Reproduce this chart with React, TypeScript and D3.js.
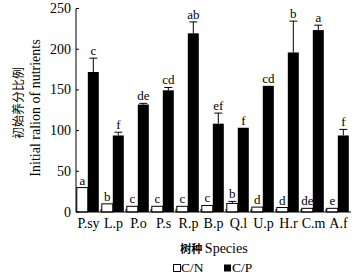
import React from "react";
import * as d3 from "d3";

const species = ["P.sy", "L.p", "P.o", "P.s", "R.p", "B.p", "Q.l", "U.p", "H.r", "C.m", "A.f"];
const cnValues = [30, 10, 7, 7, 7, 8, 10.5, 6, 5.5, 4.5, 4.5];
const cnErrors = [0, 0, 0, 0, 0, 0, 2.5, 0, 0, 0, 0];
const cnLetters = ["a", "b", "c", "c", "c", "c", "b", "d", "d", "de", "e"];
const cpValues = [172, 94, 132, 149.5, 219.5, 108.5, 103.5, 155, 196, 223.5, 94];
const cpErrors = [17, 4, 1.5, 3.5, 14, 13, 0, 0, 38.5, 6, 7.5];
const cpLetters = ["c", "f", "de", "cd", "ab", "ef", "f", "cd", "b", "a", "f"];
const yTicks = [0, 50, 100, 150, 200, 250];

const serifStyle = { fontFamily: "'Liberation Serif', 'Times New Roman', serif" };
const cjkStyle = { fontFamily: "'Noto Sans CJK SC', sans-serif" };

export default function App() {
  const W = 352, H = 277;
  const x0 = 76, x1 = 351;
  const y = d3.scaleLinear().domain([0, 250]).range([212, 8.5]);
  const x = d3.scaleBand<string>().domain(species).range([x0, x1]).padding(0);
  const bw = 11;
  const off = 0.8;

  return (
    <svg width={W} height={H} style={{ position: "absolute", left: 0, top: 0, background: "#fff" }}>
      {species.map((s, i) => {
        const gx = x(s)!;
        const wx = gx + off;
        const bx = gx + off + bw;
        const cnTop = y(cnValues[i] + cnErrors[i]);
        const cpTop = y(cpValues[i] + cpErrors[i]);
        return (
          <g key={s}>
            <rect x={wx} y={y(cnValues[i])} width={bw} height={y(0) - y(cnValues[i])} fill="#fff" stroke="#000" strokeWidth={1} />
            {cnErrors[i] > 0 && (
              <g stroke="#000" strokeWidth={1}>
                <line x1={wx + bw / 2} x2={wx + bw / 2} y1={y(cnValues[i])} y2={cnTop} />
                <line x1={wx + bw / 2 - 4} x2={wx + bw / 2 + 4} y1={cnTop} y2={cnTop} />
              </g>
            )}
            <text x={wx + bw / 2} y={cnTop - 3} textAnchor="middle" style={serifStyle} fontSize={13}>{cnLetters[i]}</text>
            <rect x={bx} y={y(cpValues[i])} width={bw} height={y(0) - y(cpValues[i])} fill="#000" />
            {cpErrors[i] > 0 && (
              <g stroke="#000" strokeWidth={1}>
                <line x1={bx + bw / 2} x2={bx + bw / 2} y1={y(cpValues[i])} y2={cpTop} />
                <line x1={bx + bw / 2 - 4} x2={bx + bw / 2 + 4} y1={cpTop} y2={cpTop} />
              </g>
            )}
            <text x={bx + bw / 2} y={cpTop - 3} textAnchor="middle" style={serifStyle} fontSize={13}>{cpLetters[i]}</text>
            <text x={gx + x.bandwidth() / 2} y={228} textAnchor="middle" style={serifStyle} fontSize={14}>{s}</text>
          </g>
        );
      })}
      <line x1={x0} x2={x0} y1={y(250)} y2={y(0)} stroke="#000" strokeWidth={1} />
      <line x1={x0} x2={x1} y1={y(0)} y2={y(0)} stroke="#000" strokeWidth={1} />
      {yTicks.map((t) => (
        <g key={t}>
          <line x1={x0} x2={x0 + 3} y1={y(t)} y2={y(t)} stroke="#000" />
          <text x={71} y={y(t) + 4.5} textAnchor="end" style={serifStyle} fontSize={14}>{t}</text>
        </g>
      ))}
      {species.map((s, i) =>
        i > 0 ? <line key={s} x1={x(s)!} x2={x(s)!} y1={y(0)} y2={y(0) - 3} stroke="#000" /> : null
      )}
      <text transform="translate(23,103) rotate(-90)" textAnchor="middle" style={cjkStyle} fontSize={12}>初始养分比例</text>
      <text transform="translate(40,108) rotate(-90)" textAnchor="middle" style={serifStyle} fontSize={14}>Initial ralion of nutrients</text>
      <text x={214} y={253} textAnchor="middle">
        <tspan style={cjkStyle} fontSize={11} fontWeight="bold">树种 </tspan>
        <tspan style={serifStyle} fontSize={14}>Species</tspan>
      </text>
      <rect x={173.5} y={264.5} width={7} height={7} fill="#fff" stroke="#000" />
      <text x={181} y={272} style={serifStyle} fontSize={13.5}>C/N</text>
      <rect x={224} y={264.5} width={7} height={7} fill="#000" />
      <text x={232} y={272} style={serifStyle} fontSize={13.5}>C/P</text>
    </svg>
  );
}
